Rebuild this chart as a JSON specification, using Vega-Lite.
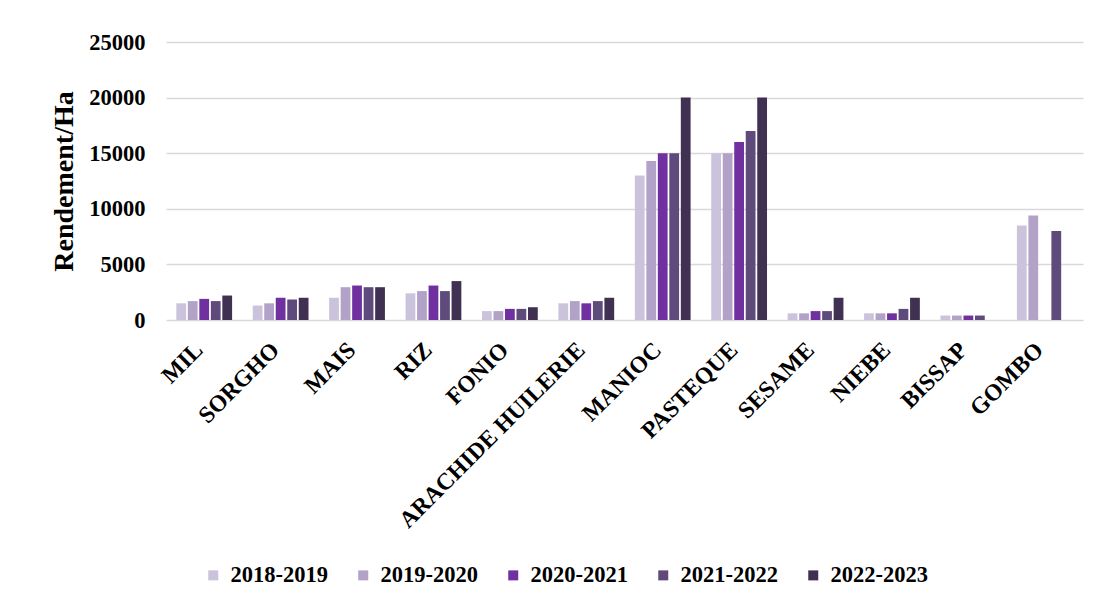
{
  "$schema": "https://vega.github.io/schema/vega-lite/v6.json",
  "width": 917,
  "height": 278,
  "autosize": {"type": "none"},
  "padding": {"left": 166, "top": 42, "right": 18, "bottom": 285},
  "background": "white",
  "data": {"values": [
    {"culture": "MIL", "campagne": "2018-2019", "rendement": 1500},
    {"culture": "MIL", "campagne": "2019-2020", "rendement": 1700},
    {"culture": "MIL", "campagne": "2020-2021", "rendement": 1900},
    {"culture": "MIL", "campagne": "2021-2022", "rendement": 1700},
    {"culture": "MIL", "campagne": "2022-2023", "rendement": 2200},
    {"culture": "SORGHO", "campagne": "2018-2019", "rendement": 1300},
    {"culture": "SORGHO", "campagne": "2019-2020", "rendement": 1500},
    {"culture": "SORGHO", "campagne": "2020-2021", "rendement": 2000},
    {"culture": "SORGHO", "campagne": "2021-2022", "rendement": 1850},
    {"culture": "SORGHO", "campagne": "2022-2023", "rendement": 2000},
    {"culture": "MAIS", "campagne": "2018-2019", "rendement": 2000},
    {"culture": "MAIS", "campagne": "2019-2020", "rendement": 2950},
    {"culture": "MAIS", "campagne": "2020-2021", "rendement": 3100},
    {"culture": "MAIS", "campagne": "2021-2022", "rendement": 2950},
    {"culture": "MAIS", "campagne": "2022-2023", "rendement": 2950},
    {"culture": "RIZ", "campagne": "2018-2019", "rendement": 2400},
    {"culture": "RIZ", "campagne": "2019-2020", "rendement": 2600},
    {"culture": "RIZ", "campagne": "2020-2021", "rendement": 3100},
    {"culture": "RIZ", "campagne": "2021-2022", "rendement": 2600},
    {"culture": "RIZ", "campagne": "2022-2023", "rendement": 3500},
    {"culture": "FONIO", "campagne": "2018-2019", "rendement": 800},
    {"culture": "FONIO", "campagne": "2019-2020", "rendement": 800},
    {"culture": "FONIO", "campagne": "2020-2021", "rendement": 1000},
    {"culture": "FONIO", "campagne": "2021-2022", "rendement": 1000},
    {"culture": "FONIO", "campagne": "2022-2023", "rendement": 1150},
    {"culture": "ARACHIDE HUILERIE", "campagne": "2018-2019", "rendement": 1500},
    {"culture": "ARACHIDE HUILERIE", "campagne": "2019-2020", "rendement": 1700},
    {"culture": "ARACHIDE HUILERIE", "campagne": "2020-2021", "rendement": 1500},
    {"culture": "ARACHIDE HUILERIE", "campagne": "2021-2022", "rendement": 1700},
    {"culture": "ARACHIDE HUILERIE", "campagne": "2022-2023", "rendement": 2000},
    {"culture": "MANIOC", "campagne": "2018-2019", "rendement": 13000},
    {"culture": "MANIOC", "campagne": "2019-2020", "rendement": 14300},
    {"culture": "MANIOC", "campagne": "2020-2021", "rendement": 15000},
    {"culture": "MANIOC", "campagne": "2021-2022", "rendement": 15000},
    {"culture": "MANIOC", "campagne": "2022-2023", "rendement": 20000},
    {"culture": "PASTEQUE", "campagne": "2018-2019", "rendement": 15000},
    {"culture": "PASTEQUE", "campagne": "2019-2020", "rendement": 15000},
    {"culture": "PASTEQUE", "campagne": "2020-2021", "rendement": 16000},
    {"culture": "PASTEQUE", "campagne": "2021-2022", "rendement": 17000},
    {"culture": "PASTEQUE", "campagne": "2022-2023", "rendement": 20000},
    {"culture": "SESAME", "campagne": "2018-2019", "rendement": 600},
    {"culture": "SESAME", "campagne": "2019-2020", "rendement": 600},
    {"culture": "SESAME", "campagne": "2020-2021", "rendement": 800},
    {"culture": "SESAME", "campagne": "2021-2022", "rendement": 800},
    {"culture": "SESAME", "campagne": "2022-2023", "rendement": 2000},
    {"culture": "NIEBE", "campagne": "2018-2019", "rendement": 600},
    {"culture": "NIEBE", "campagne": "2019-2020", "rendement": 600},
    {"culture": "NIEBE", "campagne": "2020-2021", "rendement": 600},
    {"culture": "NIEBE", "campagne": "2021-2022", "rendement": 1000},
    {"culture": "NIEBE", "campagne": "2022-2023", "rendement": 2000},
    {"culture": "BISSAP", "campagne": "2018-2019", "rendement": 400},
    {"culture": "BISSAP", "campagne": "2019-2020", "rendement": 400},
    {"culture": "BISSAP", "campagne": "2020-2021", "rendement": 400},
    {"culture": "BISSAP", "campagne": "2021-2022", "rendement": 400},
    {"culture": "GOMBO", "campagne": "2018-2019", "rendement": 8500},
    {"culture": "GOMBO", "campagne": "2019-2020", "rendement": 9400},
    {"culture": "GOMBO", "campagne": "2021-2022", "rendement": 8000}
  ]},
  "mark": {"type": "bar"},
  "encoding": {
    "x": {
      "field": "culture",
      "type": "nominal",
      "sort": ["MIL", "SORGHO", "MAIS", "RIZ", "FONIO", "ARACHIDE HUILERIE", "MANIOC", "PASTEQUE", "SESAME", "NIEBE", "BISSAP", "GOMBO"],
      "scale": {"paddingInner": 0.27, "paddingOuter": 0.135},
      "axis": {
        "title": null,
        "labelAngle": -45,
        "labelAlign": "right",
        "labelBaseline": "alphabetic",
        "labelFont": "Liberation Serif",
        "labelFontWeight": "bold",
        "labelFontSize": 23.5,
        "labelColor": "black",
        "labelLimit": 0,
        "ticks": false,
        "domain": false,
        "labelPadding": 31
      }
    },
    "xOffset": {
      "field": "campagne",
      "type": "nominal",
      "sort": ["2018-2019", "2019-2020", "2020-2021", "2021-2022", "2022-2023"],
      "scale": {"paddingInner": 0.15}
    },
    "y": {
      "field": "rendement",
      "type": "quantitative",
      "scale": {"domain": [0, 25000]},
      "axis": {
        "title": "Rendement/Ha",
        "titleFont": "Liberation Serif",
        "titleFontWeight": "bold",
        "titleFontSize": 28,
        "titleColor": "black",
        "titlePadding": 10,
        "values": [0, 5000, 10000, 15000, 20000, 25000],
        "format": "d",
        "labelFont": "Liberation Serif",
        "labelFontWeight": "bold",
        "labelFontSize": 22.5,
        "labelColor": "black",
        "labelPadding": 21,
        "ticks": false,
        "domain": false,
        "grid": true,
        "gridColor": "#d9d9d9",
        "gridWidth": 1.5
      }
    },
    "color": {
      "field": "campagne",
      "type": "nominal",
      "sort": ["2018-2019", "2019-2020", "2020-2021", "2021-2022", "2022-2023"],
      "scale": {
        "domain": ["2018-2019", "2019-2020", "2020-2021", "2021-2022", "2022-2023"],
        "range": ["#cbc3db", "#b3a2c8", "#7030a0", "#5f4b7b", "#403152"]
      },
      "legend": {
        "title": null,
        "orient": "none",
        "direction": "horizontal",
        "legendX": 36,
        "legendY": 522,
        "symbolType": "square",
        "symbolSize": 100,
        "symbolStrokeWidth": 0,
        "labelFont": "Liberation Serif",
        "labelFontWeight": "bold",
        "labelFontSize": 22.5,
        "labelColor": "black",
        "labelOffset": 6,
        "columnPadding": 24,
        "padding": 0
      }
    }
  },
  "config": {"view": {"stroke": null}}
}
